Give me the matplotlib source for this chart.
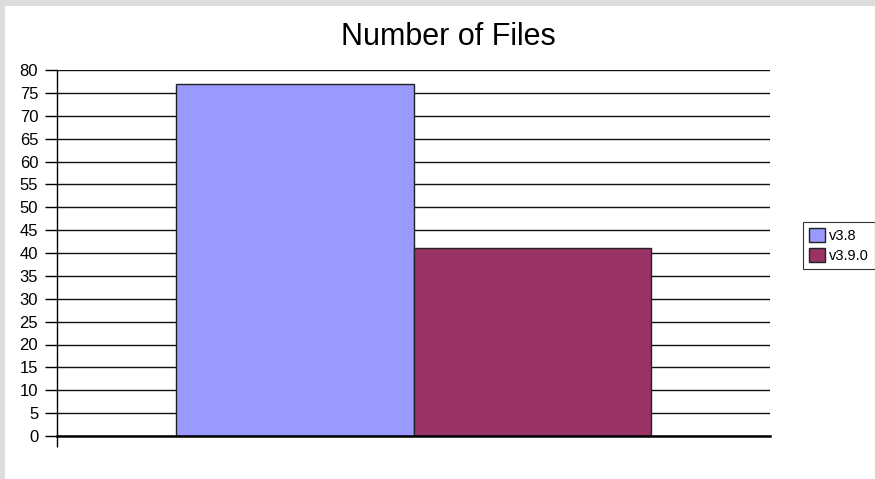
import matplotlib
matplotlib.use('Agg')
import matplotlib.pyplot as plt
from matplotlib.patches import Rectangle

# data
series = ['v3.8', 'v3.9.0']
values = [77, 41]
colors = ['#9999FF', '#993366']
yticks = list(range(0, 85, 5))

plt.rcParams['font.family'] = ['Liberation Sans', 'DejaVu Sans']

W, H = 875, 479
fig = plt.figure(figsize=(W / 100, H / 100), dpi=100)
fig.patch.set_facecolor('white')

# light gray frame at top and left
fig.patches.append(Rectangle((0, 1 - 6 / H), 1, 6 / H, transform=fig.transFigure,
                             facecolor='#dddddd', edgecolor='none', zorder=0))
fig.patches.append(Rectangle((0, 0), 5 / W, 1, transform=fig.transFigure,
                             facecolor='#dddddd', edgecolor='none', zorder=0))

left, right, top, bottom = 57, 770, 70, 436
ax = fig.add_axes([left / W, (H - bottom) / H, (right - left) / W, (bottom - top) / H])

width = 1 / 3
for i, (name, v, c) in enumerate(zip(series, values, colors)):
    x = (i - 0.5) * width
    ax.bar(x, v, width=width, color=c, edgecolor='#222222', linewidth=1,
           label=name, zorder=3)

ax.set_xlim(-0.5, 0.5)
ax.set_ylim(0, 80)
ax.set_yticks(yticks)
ax.set_yticklabels([str(t) for t in yticks], fontsize=12)
ax.yaxis.grid(True, color='#111111', linewidth=1, zorder=0)
ax.set_axisbelow(True)

ax.set_xticks([-0.5])
ax.set_xticklabels([''])
ax.tick_params(axis='x', direction='out', length=8, width=1, color='black')
ax.tick_params(axis='y', direction='out', length=8.5, width=1, color='black', pad=5)

for s in ['top', 'right']:
    ax.spines[s].set_visible(False)
ax.spines['left'].set_linewidth(1)
ax.spines['bottom'].set_linewidth(1.8)
ax.spines['bottom'].set_zorder(4)

fig.text(448.5 / W, (H - 45) / H, 'Number of Files', fontsize=22,
         ha='center', va='baseline')

leg = fig.legend(loc='center left', bbox_to_anchor=(803 / W, (H - 245.5) / H),
                 fontsize=10.5, frameon=True, fancybox=False, handlelength=1.1,
                 handleheight=1.1, handletextpad=0.3, borderpad=0.4,
                 labelspacing=0.35, borderaxespad=0)
leg.get_frame().set_edgecolor('black')
leg.get_frame().set_linewidth(0.8)

fig.savefig('out.png', dpi=100)
